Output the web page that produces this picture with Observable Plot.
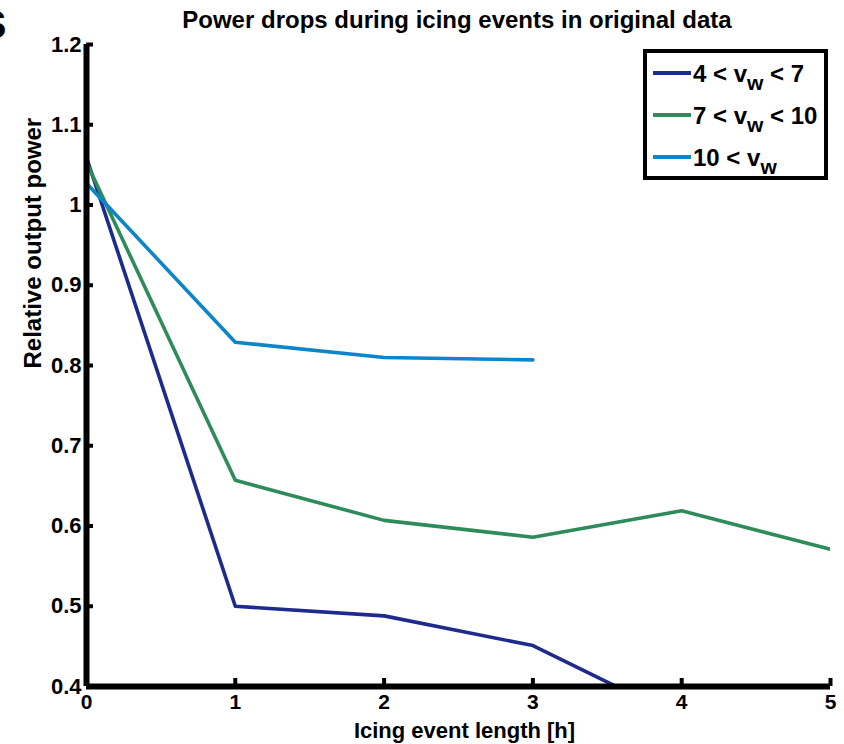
<!DOCTYPE html>
<html>
<head>
<meta charset="utf-8">
<script src="https://cdn.jsdelivr.net/npm/d3@7"></script>
<script src="https://cdn.jsdelivr.net/npm/@observablehq/plot@0.6"></script>
<style>
  html, body { margin: 0; padding: 0; background: #fff; }
  #wrap { position: relative; width: 844px; height: 744px; overflow: hidden; font-family: "Liberation Sans", Arial, sans-serif; }
  #title { position: absolute; left: 57px; width: 800px; top: 8px; text-align: center; font-weight: bold; font-size: 24px; line-height: 24px; color: #000; white-space: nowrap; }
  #panel { position: absolute; left: -19px; top: 6px; font-weight: bold; font-size: 38px; line-height: 38px; color: #000; }
  #legend { position: absolute; left: 643px; top: 49px; width: 185px; height: 131px; box-sizing: border-box; border: 4px solid #000; background: #fff; }
  .sw { position: absolute; left: 6px; width: 38px; height: 4px; }
  .lt { position: absolute; left: 46px; font-weight: bold; font-size: 24px; line-height: 24px; color: #000; white-space: nowrap; }
  .lt sub { font-size: 21px; vertical-align: -8px; line-height: 0; }
</style>
</head>
<body>
<div id="wrap">
  <div id="panel">S</div>
  <div id="title">Power drops during icing events in original data</div>
  <div id="chart"></div>
  <div id="legend"></div>
</div>
<script>
// Data
const hours = [0, 1, 2, 3, 4, 5];
const seriesNames = ["4 < v_w < 7", "7 < v_w < 10", "10 < v_w"];
const seriesColors = ["#1c2b8c", "#2e8b5a", "#0c86c8"];
const lowWind = [1.059, 0.500, 0.488, 0.451, 0.360];           // 4 < vw < 7
const midWind = [1.053, 0.657, 0.607, 0.586, 0.619, 0.571];    // 7 < vw < 10
const highWind = [1.027, 0.829, 0.810, 0.807];                 // 10 < vw
const yTicks = [0.4, 0.5, 0.6, 0.7, 0.8, 0.9, 1.0, 1.1, 1.2];
const xTicks = [0, 1, 2, 3, 4, 5];

const allSeries = [lowWind, midWind, highWind];
const rows = [];
allSeries.forEach((vals, s) => vals.forEach((v, i) => rows.push({h: hours[i], p: v, s: seriesNames[s]})));

const plot = Plot.plot({
  width: 844,
  height: 744,
  marginLeft: 86,
  marginRight: 14,
  marginTop: 44,
  marginBottom: 58,
  style: {fontFamily: "Liberation Sans, Arial, sans-serif", fontSize: "22px", fontWeight: "bold", color: "#000", background: "#fff", overflow: "visible"},
  x: {domain: [0, 5]},
  y: {domain: [0.4, 1.2]},
  color: {domain: seriesNames, range: seriesColors},
  marks: [
    Plot.line(rows, {x: "h", y: "p", z: "s", stroke: "s", strokeWidth: 3.6, clip: true}),
    Plot.axisY(yTicks, {tickSize: -7, tickPadding: 12, strokeWidth: 4, fontSize: 22, fontWeight: "bold", tickFormat: d => String(+d.toFixed(1)), label: null}),
    Plot.axisX(xTicks, {tickSize: -8, tickPadding: 16, strokeWidth: 4, fontSize: 21, fontWeight: "bold", tickFormat: d => String(d), label: null}),
    Plot.ruleX([0], {strokeWidth: 6, stroke: "#000"}),
    Plot.ruleY([0.4], {strokeWidth: 6, stroke: "#000"}),
    Plot.text(["Relative output power"], {frameAnchor: "left", dx: -53, dy: 3, rotate: -90, fontSize: 24, fontWeight: "bold"}),
    Plot.text(["Icing event length [h]"], {frameAnchor: "bottom", dx: 6, dy: 51, fontSize: 22, fontWeight: "bold"})
  ]
});
document.getElementById("chart").appendChild(plot);

// Legend
const legendLabels = [["4 < v", "w", " < 7"], ["7 < v", "w", " < 10"], ["10 < v", "w", ""]];
const legendRowY = [73, 115, 157];
const lg = document.getElementById("legend");
legendLabels.forEach((lab, i) => {
  const sw = document.createElement("div");
  sw.className = "sw";
  sw.style.top = (legendRowY[i] - 2 - 53) + "px";
  sw.style.background = seriesColors[i];
  lg.appendChild(sw);
  const t = document.createElement("div");
  t.className = "lt";
  t.style.top = (legendRowY[i] - 11 - 53) + "px";
  t.innerHTML = `${lab[0]}<sub>${lab[1]}</sub>${lab[2]}`;
  lg.appendChild(t);
});
</script>
</body>
</html>
